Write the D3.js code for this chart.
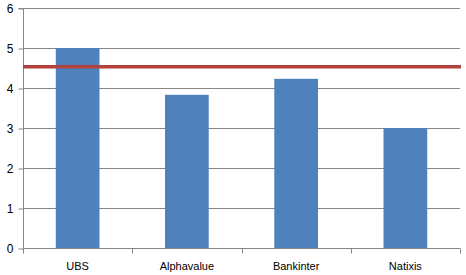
<!DOCTYPE html>
<html>
<head>
<meta charset="utf-8">
<script src="https://cdn.jsdelivr.net/npm/d3@7"></script>
<style>
  body { margin: 0; background: #fff; }
  svg { display: block; font-family: "Liberation Sans", Arial, sans-serif; }
</style>
</head>
<body>
<div id="chart"></div>
<script>
// values
const categories = ['UBS', 'Alphavalue', 'Bankinter', 'Natixis']
const values = [5.0, 3.83, 4.23, 3.0]
const average = 4.53
const yTicks = [0, 1, 2, 3, 4, 5, 6]

const width = 466, height = 275
const margin = {top: 8, right: 6, bottom: 27, left: 23}

const svg = d3.select('#chart')
    .append('svg')
    .attr('width', width)
    .attr('height', height)

const x = d3.scaleBand()
    .domain(categories)
    .range([margin.left, width - margin.right])
    .padding(0)

const y = d3.scaleLinear()
    .domain([0, 6])
    .range([height - margin.bottom, margin.top])

// gridlines
svg.append('g')
    .selectAll('line')
    .data(yTicks.filter(d => d > 0))
    .enter().append('line')
    .attr('x1', margin.left)
    .attr('x2', width - margin.right)
    .attr('y1', d => Math.round(y(d)) + 0.5)
    .attr('y2', d => Math.round(y(d)) + 0.5)
    .attr('stroke', '#868686')

// y axis
const yAxis = svg.append('g')
    .attr('transform', `translate(${margin.left + 0.5},0.5)`)
    .call(d3.axisLeft(y).tickValues(yTicks).tickSize(5).tickPadding(5).tickFormat(d3.format('d')))
yAxis.select('.domain').attr('stroke', '#868686').attr('d', `M-5,${y(6)}H0V${y(0)}`)
yAxis.selectAll('.tick line').attr('stroke', '#868686')
yAxis.selectAll('.tick text').attr('font-size', 12).attr('fill', '#000')
    .attr('font-family', '"Liberation Sans", Arial, sans-serif')

// bars: width is 40% of each category slot
const barW = x.bandwidth() * 0.4
svg.append('g')
    .selectAll('rect')
    .data(values)
    .enter().append('rect')
    .attr('x', (d, i) => x(categories[i]) + (x.bandwidth() - barW) / 2)
    .attr('y', d => y(d))
    .attr('width', barW)
    .attr('height', d => y(0) - y(d))
    .attr('fill', '#4F81BD')

// x axis with ticks between categories
const xAxis = svg.append('g')
    .attr('transform', `translate(0,${Math.round(y(0)) + 0.5})`)
xAxis.append('line')
    .attr('x1', margin.left)
    .attr('x2', width - margin.right)
    .attr('stroke', '#868686')
const bounds = categories.map(c => x(c)).concat([x.range()[1]])
xAxis.selectAll('.sep')
    .data(bounds)
    .enter().append('line')
    .attr('class', 'sep')
    .attr('x1', d => Math.round(d) + 0.5)
    .attr('x2', d => Math.round(d) + 0.5)
    .attr('y1', 0)
    .attr('y2', 5)
    .attr('stroke', '#868686')
xAxis.selectAll('text')
    .data(categories)
    .enter().append('text')
    .attr('x', d => x(d) + x.bandwidth() / 2)
    .attr('y', 21)
    .attr('text-anchor', 'middle')
    .attr('font-size', 11)
    .attr('fill', '#000')
    .text(d => d)

// average line
svg.append('line')
    .attr('x1', margin.left)
    .attr('x2', width - margin.right + 1)
    .attr('y1', y(average))
    .attr('y2', y(average))
    .attr('stroke', '#B3413E')
    .attr('stroke-width', 3.5)
</script>
</body>
</html>
